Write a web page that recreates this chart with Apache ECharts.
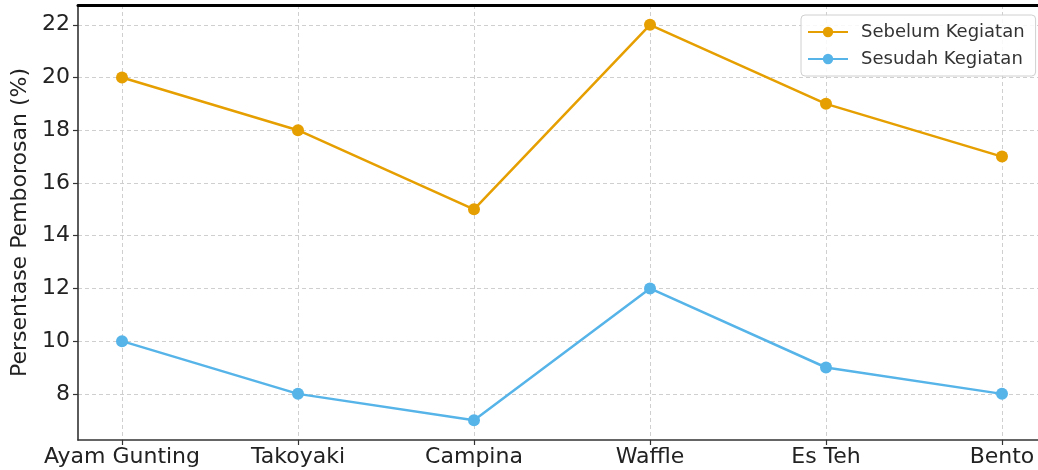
<!DOCTYPE html>
<html>
<head>
<meta charset="utf-8">
<script src="https://cdn.jsdelivr.net/npm/echarts@6/dist/echarts.min.js"></script>
<style>
  html, body { margin: 0; padding: 0; background: #fff; }
  #chart { width: 1038px; height: 470px; }
</style>
</head>
<body>
<div id="chart"></div>
<script>
// Menu items and waste percentages before / after the activity
const categories = ['Ayam Gunting', 'Takoyaki', 'Campina', 'Waffle', 'Es Teh', 'Bento'];
const sebelum = [20, 18, 15, 22, 19, 17];
const sesudah = [10, 8, 7, 12, 9, 8];
const yTicks = [8, 10, 12, 14, 16, 18, 20, 22];
const xTicks = categories.map((_, i) => i);

const FONT = 'DejaVu Sans';
const gridLine = { show: true, lineStyle: { color: '#cfcfcf', width: 1, type: [4, 3] } };

const chart = echarts.init(document.getElementById('chart'), null, { renderer: 'canvas' });
chart.setOption({
  animation: false,
  backgroundColor: '#ffffff',
  textStyle: { fontFamily: FONT },
  // plot area runs slightly past the right edge of the canvas
  grid: { left: 78, top: 5, width: 968, height: 435, containLabel: false, outerBoundsMode: 'none' },
  legend: {
    orient: 'vertical',
    left: 801,
    top: 15,
    padding: [8, 11, 8, 6],
    itemWidth: 40,
    itemHeight: 13,
    itemGap: 9,
    backgroundColor: 'rgba(255,255,255,0.85)',
    borderColor: '#d0d0d0',
    borderWidth: 1,
    borderRadius: 4,
    textStyle: { fontFamily: FONT, fontSize: 18, color: '#333', padding: [0, 0, 0, 8] },
    data: ['Sebelum Kegiatan', 'Sesudah Kegiatan']
  },
  xAxis: [{
    type: 'value',
    min: -0.25,
    max: 5.25,
    axisLine: { show: true, onZero: false, lineStyle: { color: '#333', width: 1.6 } },
    axisTick: { show: true, length: 5, customValues: xTicks, lineStyle: { color: '#333', width: 1.2 } },
    axisLabel: {
      customValues: xTicks,
      formatter: v => categories[Math.round(v)] || '',
      fontSize: 22, color: '#222', margin: 6, fontFamily: FONT
    },
    splitLine: gridLine
  }, {
    type: 'value',
    position: 'top',
    min: -0.25,
    max: 5.25,
    axisLine: { show: true, onZero: false, lineStyle: { color: '#000', width: 3 } },
    axisTick: { show: false },
    axisLabel: { show: false },
    splitLine: { show: false }
  }],
  yAxis: {
    type: 'value',
    min: 6.25,
    max: 22.75,
    name: 'Persentase Pemborosan (%)',
    nameLocation: 'middle',
    nameGap: 40,
    nameTextStyle: { fontSize: 22, color: '#222', fontFamily: FONT },
    axisLine: { show: true, onZero: false, lineStyle: { color: '#333', width: 1.6 } },
    axisTick: { show: true, length: 5, customValues: yTicks, lineStyle: { color: '#333', width: 1.2 } },
    axisLabel: { customValues: yTicks, fontSize: 22, color: '#222', margin: 8, fontFamily: FONT },
    splitLine: gridLine
  },
  series: [{
    name: 'Sebelum Kegiatan',
    type: 'line',
    data: sebelum.map((v, i) => [i, v]),
    color: '#E69F00',
    symbol: 'circle',
    symbolSize: 12,
    lineStyle: { width: 2.5 },
    itemStyle: { color: '#E69F00' }
  }, {
    name: 'Sesudah Kegiatan',
    type: 'line',
    data: sesudah.map((v, i) => [i, v]),
    color: '#56B4E9',
    symbol: 'circle',
    symbolSize: 12,
    lineStyle: { width: 2.5 },
    itemStyle: { color: '#56B4E9' }
  }]
});
</script>
</body>
</html>
